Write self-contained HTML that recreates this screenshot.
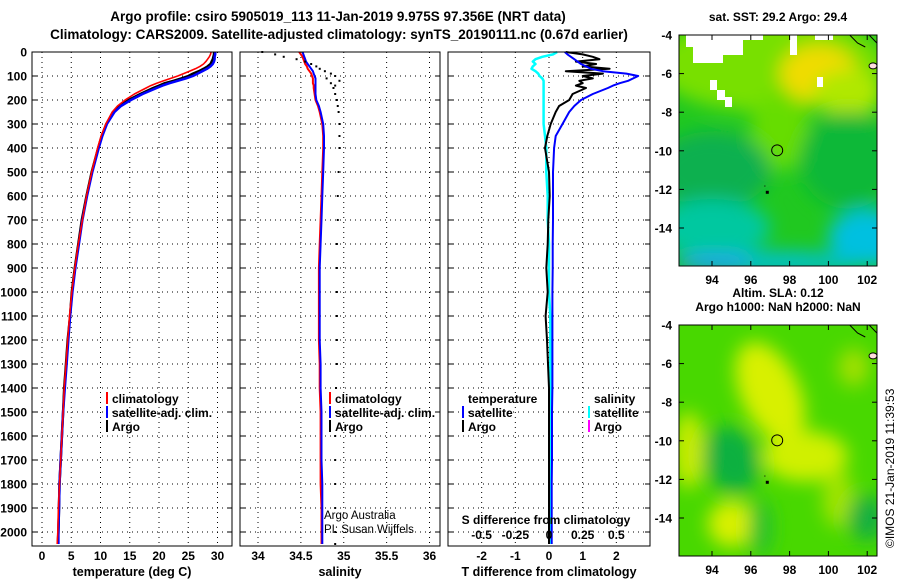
<!DOCTYPE html>
<html><head><meta charset="utf-8">
<style>
html,body{margin:0;padding:0;background:#fff;}
svg text{font-family:"Liberation Sans",Arial,sans-serif;font-weight:bold;fill:#000;}
</style></head>
<body>
<svg id="chart" width="900" height="580" viewBox="0 0 900 580" xmlns="http://www.w3.org/2000/svg">
<defs>
<filter id="blur8" x="-50%" y="-50%" width="200%" height="200%"><feGaussianBlur stdDeviation="9"/></filter>
<clipPath id="clipTop"><rect x="679" y="35" width="198" height="231"/></clipPath>
<clipPath id="clipBot"><rect x="679" y="325" width="198" height="231"/></clipPath>
</defs>
<text x="338" y="21" font-size="13.5" text-anchor="middle">Argo profile: csiro 5905019_113 11-Jan-2019 9.975S 97.356E (NRT data)</text>
<text x="339" y="39" font-size="13.5" text-anchor="middle">Climatology: CARS2009. Satellite-adjusted climatology: synTS_20190111.nc (0.67d earlier)</text>
<g id="plots"></g>
<g id="maps"></g>
<text font-size="12" style="font-weight:normal" transform="translate(894,548) rotate(-90)">©IMOS 21-Jan-2019 11:39:53</text>
</svg>
<script>
// ---- data ----
const depths = [0,10,20,30,40,50,60,70,80,90,100,110,120,130,140,150,175,200,225,250,300,350,400,500,600,700,800,900,1000,1100,1200,1300,1400,1500,1600,1700,1800,1900,2000,2050];
const tempArgo = [29.4,29.4,29.3,29.2,29.0,28.8,28.3,27.6,26.8,25.8,25.0,23.8,22.5,21.0,20.0,19.0,16.8,14.8,13.2,12.2,11.0,10.2,9.6,8.5,7.6,6.8,6.2,5.6,5.1,4.8,4.4,4.1,3.8,3.6,3.4,3.2,3.0,2.9,2.8,2.7];
const tempClim = [28.9,28.8,28.6,28.3,28.0,27.6,27.0,26.2,25.2,24.2,23.2,22.0,20.8,19.6,18.6,17.8,15.8,14.2,12.9,12.0,10.9,10.1,9.5,8.5,7.6,6.9,6.2,5.6,5.1,4.7,4.4,4.1,3.8,3.6,3.4,3.2,3.0,2.8,2.7,2.6];
const tempSat = [29.6,29.6,29.5,29.5,29.4,29.2,28.8,28.2,27.4,26.6,25.8,24.6,23.2,21.8,20.6,19.6,17.2,15.2,13.5,12.4,11.1,10.3,9.7,8.6,7.7,6.9,6.3,5.7,5.2,4.8,4.5,4.2,3.9,3.6,3.4,3.2,3.0,2.9,2.8,2.8];
const salClim = [34.48,34.5,34.52,34.53,34.54,34.55,34.57,34.58,34.6,34.62,34.63,34.64,34.64,34.64,34.65,34.65,34.66,34.67,34.7,34.72,34.75,34.76,34.76,34.75,34.74,34.73,34.72,34.71,34.71,34.71,34.71,34.72,34.72,34.73,34.73,34.73,34.73,34.74,34.74,34.74];
const salSat = [34.52,34.53,34.54,34.55,34.56,34.58,34.6,34.62,34.64,34.65,34.66,34.67,34.67,34.67,34.67,34.67,34.67,34.68,34.71,34.73,34.76,34.77,34.77,34.76,34.75,34.74,34.73,34.72,34.72,34.72,34.72,34.73,34.73,34.74,34.74,34.74,34.75,34.75,34.75,34.75];
const salArgo = [34.05,34.2,34.3,34.45,34.55,34.62,34.68,34.72,34.78,34.85,34.9,34.8,34.95,34.85,34.9,34.88,34.9,34.92,34.93,34.94,34.95,34.95,34.95,34.94,34.93,34.93,34.92,34.92,34.92,34.92,34.92,34.92,34.91,34.91,34.9,34.9,34.9,34.9,34.9,34.9];
const tDiffSat = [0.47,0.55,0.65,0.75,0.85,0.95,1.1,1.25,1.6,2.3,2.65,2.5,2.35,2.1,1.9,1.75,1.3,0.95,0.75,0.6,0.4,0.2,0.15,0.12,0.12,0.12,0.11,0.11,0.1,0.1,0.1,0.1,0.1,0.09,0.09,0.09,0.08,0.08,0.08,0.08];
const tDiffArgo = [0.5,1.0,1.3,1.5,0.8,1.4,1.0,1.8,0.5,1.6,1.0,1.3,0.9,1.0,0.8,1.1,0.7,0.6,0.3,0.2,0.05,-0.05,-0.12,0.0,0.02,-0.02,-0.04,-0.08,-0.04,-0.1,-0.06,-0.03,0.0,0.0,0.0,0.0,0.0,0.0,0.0,0.0];
const sDiffSat = [0.06,0.03,-0.05,-0.1,-0.12,-0.1,-0.12,-0.13,-0.1,-0.08,-0.07,-0.05,-0.04,-0.04,-0.04,-0.04,-0.04,-0.04,-0.04,-0.04,-0.04,-0.03,-0.02,-0.02,-0.01,-0.01,0,0,0,0.01,0.01,0.01,0.01,0.01,0.01,0.01,0.01,0.01,0.01,0.01];
const depthTicks = [0,100,200,300,400,500,600,700,800,900,1000,1100,1200,1300,1400,1500,1600,1700,1800,1900,2000];
const tempTicks = [0,5,10,15,20,25,30];
const salTicks = [34,34.5,35,35.5,36];
const tDiffTicks = [-2,-1,0,1,2];
const sDiffTicks = [-0.5,-0.25,0,0.25,0.5];
const latTicks = [-4,-6,-8,-10,-12,-14];
const lonTicks = [94,96,98,100,102];

// ---- helpers ----
const NS = 'http://www.w3.org/2000/svg';
function mk(tag, attrs, parent){const e=document.createElementNS(NS,tag);for(const k in attrs)e.setAttribute(k,attrs[k]);parent.appendChild(e);return e;}
const TOP=52, BOT=546;
const yD = d => TOP + d*0.24;
const plots = document.getElementById('plots');
const panels = [
  {name:'temperature-panel', x0:32, x1:232, xs: v=>42+v*5.85, ticks:tempTicks, label:'temperature (deg C)'},
  {name:'salinity-panel', x0:240, x1:440, xs: v=>258+(v-34)*85.75, ticks:salTicks, label:'salinity'},
  {name:'difference-panel', x0:448, x1:650, xs: v=>549+v*33.67, ticks:tDiffTicks, label:'T difference from climatology'}
];
const xS = v => 549 + v*134.7;

panels.forEach((p,pi)=>{
  const g = mk('g',{},plots);
  
  
  depthTicks.forEach(d=>{
    const l = mk('line',{x1:p.x0,x2:p.x1,y1:yD(d),y2:yD(d),stroke:'#000','stroke-width':1,'stroke-dasharray':'1,4'},g);
    
    
    mk('line',{x1:p.x1-5,x2:p.x1,y1:yD(d),y2:yD(d),stroke:'#000'},g);
    mk('line',{x1:p.x0,x2:p.x0+5,y1:yD(d),y2:yD(d),stroke:'#000'},g);
  });
  p.ticks.forEach(v=>{
    const x=p.xs(v);
    const l = mk('line',{x1:x,x2:x,y1:TOP,y2:BOT,stroke:'#000','stroke-width':1,'stroke-dasharray':'1,4'},g);
    
    
    const t = mk('text',{x:x,y:560,'font-size':12,'text-anchor':'middle'},g);
    t.textContent = String(v);
    
    
  });
  const lab = mk('text',{x:(p.x0+p.x1)/2,y:576,'font-size':12.5,'text-anchor':'middle'},g);
  lab.textContent = p.label;
  
  
  p.g = g;
});
depthTicks.forEach(d=>{
  const t = mk('text',{x:27,y:yD(d)+4.5,'font-size':12,'text-anchor':'end'},plots);
  t.textContent = String(d);
  
  
});

function line(g, vals, xs, color, w, name){
  const pts = vals.map((v,i)=>xs(v).toFixed(1)+','+yD(depths[i]).toFixed(1)).join(' ');
  const e = mk('polyline',{points:pts,fill:'none',stroke:color,'stroke-width':w,'stroke-linejoin':'round'},g);
  
  
}
const P=panels;
line(P[0].g, tempArgo, P[0].xs, '#000', 2.5, 'argo-temperature-line');
line(P[0].g, tempSat, P[0].xs, '#0000ff', 2.5, 'satellite-temperature-line');
line(P[0].g, tempClim, P[0].xs, '#ff0000', 1.6, 'climatology-temperature-line');
line(P[1].g, salClim, P[1].xs, '#ff0000', 2, 'climatology-salinity-line');
line(P[1].g, salSat, P[1].xs, '#0000ff', 2, 'satellite-salinity-line');
salArgo.forEach((v,i)=>{
  const c = mk('rect',{x:P[1].xs(v)-1,y:yD(depths[i])-1,width:2,height:2,fill:'#000'},P[1].g);
  
  
});
line(P[2].g, sDiffSat, xS, '#00ffff', 2.5, 'satellite-salinity-diff-line');
line(P[2].g, tDiffArgo, P[2].xs, '#000', 2, 'argo-temperature-diff-line');
line(P[2].g, tDiffSat, P[2].xs, '#0000ff', 2, 'satellite-temperature-diff-line');

panels.forEach(p=>{
  const r = mk('rect',{x:p.x0,y:TOP,width:p.x1-p.x0,height:BOT-TOP,fill:'none',stroke:'#000','stroke-width':1},p.g);
  
  
});
const st = mk('text',{x:546,y:524,'font-size':12,'text-anchor':'middle'},P[2].g);
st.textContent='S difference from climatology';


sDiffTicks.forEach(v=>{
  const t = mk('text',{x:xS(v),y:539,'font-size':12,'text-anchor':'middle'},P[2].g);
  t.textContent=String(v);
  
  
});
function legend(g,x,y,color,label){
  const gg = mk('g',{},g);
  
  
  if(color) mk('rect',{x:x-6,y:y-10,width:2,height:12,fill:color},gg);
  const t = mk('text',{x:x,y:y+1,'font-size':12},gg);
  t.textContent=label;
}
legend(P[0].g,112,402,'#ff0000','climatology');
legend(P[0].g,112,416,'#0000ff','satellite-adj. clim.');
legend(P[0].g,112,430,'#000','Argo');
legend(P[1].g,335,402,'#ff0000','climatology');
legend(P[1].g,335,416,'#0000ff','satellite-adj. clim.');
legend(P[1].g,335,430,'#000','Argo');
legend(P[2].g,468,402,null,'temperature');
legend(P[2].g,468,416,'#0000ff','satellite');
legend(P[2].g,468,430,'#000','Argo');
legend(P[2].g,594,402,null,'salinity');
legend(P[2].g,594,416,'#00ffff','satellite');
legend(P[2].g,594,430,'#ff00ff','Argo');
const credit = mk('text',{x:324,y:519,'font-size':11.5,style:'font-weight:normal'},P[1].g);
credit.textContent='Argo Australia';


const credit2 = mk('text',{x:324,y:533,'font-size':11.5,style:'font-weight:normal'},P[1].g);
credit2.textContent='PI: Susan Wijffels';



// ---- maps ----
const maps = document.getElementById('maps');
function buildMap(y0, clip, name, title1, title2, blobs, base, whites){
  const g = mk('g',{},maps);
  
  
  const lx = lon => 712 + (lon-94)*19.4;
  const ly = lat => y0 + (-4-lat)*19.3;
  const inner = mk('g',{'clip-path':'url(#'+clip+')'},g);
  mk('rect',{x:679,y:y0,width:198,height:231,fill:base},inner);
  const bg = mk('g',{filter:'url(#blur8)'},inner);
  blobs.forEach(b=>{
    mk('ellipse',{cx:lx(b[0]),cy:ly(b[1]),rx:b[2]*19.4,ry:b[3]*19.3,fill:b[4],transform:'rotate('+(b[5]||0)+' '+lx(b[0])+' '+ly(b[1])+')'},bg);
  });
  (whites||[]).forEach(r=>{
    const w = mk('rect',{x:r[0],y:r[1],width:r[2],height:r[3],fill:'#fff'},inner);
    
    
  });
  mk('path',{d:`M${lx(101.1)},${y0} L${lx(101.5)},${y0+8} L${lx(101.9)},${y0+12}`,stroke:'#000',fill:'none'},inner);
  mk('path',{d:`M${lx(102.1)},${y0} L${lx(102.6)},${y0+10}`,stroke:'#000',fill:'none'},inner);
  mk('ellipse',{cx:lx(102.3),cy:ly(-5.6),rx:4,ry:3,fill:'#fdd',stroke:'#000'},inner);
  const c = mk('circle',{cx:lx(97.36),cy:ly(-9.975),r:5.5,fill:'none',stroke:'#000','stroke-width':1},g);
  
  
  mk('rect',{x:lx(96.85)-1.5,y:ly(-12.15)-1.5,width:3,height:3,fill:'#000'},g);
  mk('rect',{x:lx(96.7),y:ly(-11.8),width:1,height:1,fill:'#000'},g);
  mk('rect',{x:679,y:y0,width:198,height:231,fill:'none',stroke:'#000'},g);
  latTicks.forEach(v=>{
    mk('line',{x1:877,x2:872,y1:ly(v),y2:ly(v),stroke:'#000'},g);
    mk('line',{x1:679,x2:684,y1:ly(v),y2:ly(v),stroke:'#000'},g);
    const t=mk('text',{x:672,y:ly(v)+4.5,'font-size':12,'text-anchor':'end'},g);
    t.textContent=String(v);
    
    
  });
  lonTicks.forEach(v=>{
    mk('line',{x1:lx(v),x2:lx(v),y1:y0,y2:y0+5,stroke:'#000'},g);
    mk('line',{x1:lx(v),x2:lx(v),y1:y0+231,y2:y0+226,stroke:'#000'},g);
    const t=mk('text',{x:lx(v),y:y0+249,'font-size':12,'text-anchor':'middle'},g);
    t.textContent=String(v);
    
    
  });
  const t1=mk('text',{x:778,y:title2?y0-28:y0-14,'font-size':12,'text-anchor':'middle'},g);
  t1.textContent=title1;
  
  
  if(title2){const t2=mk('text',{x:778,y:y0-14,'font-size':12,'text-anchor':'middle'},g);t2.textContent=title2;}
  return {g,lx,ly};
}
buildMap(35,'clipTop','sst-map','sat. SST: 29.2 Argo: 29.4',null,[
  [97,-5.5,6,2.5,'#78e000'],[99.5,-6,2,1.5,'#f0dc00'],[101,-7,1.8,1.2,'#b0e800'],
  [97.5,-9,1.5,2,'#66dd00'],[94,-11,3,2,'#10b050'],[101,-10.5,2.5,2.5,'#10b838'],
  [94,-14,3,1.5,'#00c8a0'],[102,-14.5,2,1.5,'#00c0e0'],[97,-15.8,5,0.6,'#00c0c8'],[94,-15.8,2,0.4,'#20a0f0']
],'#20c820',[
  [686,35,20,12],[693,35,12,28],[705,35,38,20],[705,55,18,8],[743,35,20,5],
  [790,35,7,20],[815,35,18,5],[710,80,7,10],[717,90,8,10],[725,97,7,10],[817,77,6,10]
]);
buildMap(325,'clipBot','sla-map','Altim. SLA: 0.12','Argo h1000: NaN h2000: NaN',[
  [97,-7.5,1.5,2.8,'#d8f000',-25],[98.8,-10.8,2.2,1.3,'#d0f000'],[92.8,-10.5,0.8,2,'#c8ec00'],
  [95,-14.3,1.2,1.2,'#d8f000'],[101.3,-6.2,0.8,1,'#a0e000'],[100.5,-13,0.8,1.5,'#a0e400'],
  [95,-11,1.4,1.8,'#10b040',-20],[102,-14,1,1.2,'#18b040'],[96.5,-14.5,0.6,1.5,'#20c030']
],'#48d800',[]);
</script>
</body></html>
